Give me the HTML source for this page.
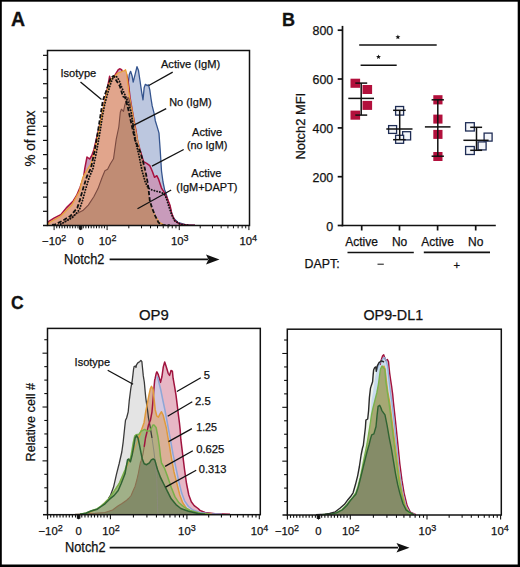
<!DOCTYPE html>
<html><head><meta charset="utf-8">
<style>
html,body{margin:0;padding:0;background:#fff;}
svg{display:block;}
text{font-family:"Liberation Sans",sans-serif;fill:#111;stroke:#111;stroke-width:0.25px;}
.b{stroke-width:0.3px;}
.b{font-weight:bold;}
</style></head>
<body>
<svg width="520" height="567" viewBox="0 0 520 567">
<rect x="0" y="0" width="520" height="567" fill="#000"/>
<rect x="1.8" y="1.7" width="515.9" height="562.8" fill="#fff"/>

<!-- ============ PANEL A ============ -->
<text x="11" y="26.2" class="b" font-size="19.5">A</text>
<g id="Acurves"><polygon points="100.0,225.0 110.0,180.0 118.0,130.0 124.0,100.0 128.4,82.1 129.3,74.4 130.6,71.3 132.2,76.3 133.2,82.1 135.1,74.4 137.0,66.7 138.5,70.6 139.9,80.0 141.7,92.3 143.0,99.8 144.2,87.4 145.4,84.3 147.3,85.6 148.5,84.9 149.8,89.9 151.0,98.5 152.2,105.9 154.1,113.3 155.3,120.7 157.2,126.9 159.0,133.1 159.6,141.7 160.2,150.0 161.5,171.0 163.0,182.0 164.6,189.7 166.1,193.6 168.5,202.1 170.8,209.9 173.1,217.6 177.8,222.3 187.1,225.0 195.0,225.2" fill="#bcc7df" stroke="none" stroke-width="1.2" stroke-linejoin="round"/>
<polyline points="128.4,82.1 129.3,74.4 130.6,71.3 132.2,76.3 133.2,82.1 135.1,74.4 137.0,66.7 138.5,70.6 139.9,80.0 141.7,92.3 143.0,99.8 144.2,87.4 145.4,84.3 147.3,85.6 148.5,84.9 149.8,89.9 151.0,98.5 152.2,105.9 154.1,113.3 155.3,120.7 157.2,126.9 159.0,133.1 159.6,141.7 160.2,150.0 161.5,171.0 163.0,182.0 164.6,189.7 166.1,193.6 168.5,202.1 170.8,209.9 173.1,217.6 177.8,222.3 187.1,225.0 195.0,225.2" fill="none" stroke="#34548e" stroke-width="1.3" stroke-linecap="butt" stroke-linejoin="round"/>
<polygon points="47.6,224.6 48.4,221.6 53.9,218.2 60.8,214.7 66.3,207.9 73.2,201.0 76.6,195.5 80.1,187.2 83.5,177.5 84.9,167.9 87.0,157.0 89.7,159.0 91.8,155.5 93.8,150.0 97.6,134.0 101.2,118.2 103.4,108.0 104.7,100.6 106.7,91.7 109.1,79.2 109.6,76.3 111.1,82.1 113.0,80.0 115.4,74.4 118.3,69.6 119.7,68.8 121.6,69.6 122.6,72.5 124.5,74.0 126.5,74.0 128.0,80.0 129.0,88.0 130.0,97.0 131.5,106.0 133.9,119.8 136.2,131.9 137.4,140.0 139.8,149.3 143.6,161.7 146.7,163.3 149.8,165.6 152.2,171.0 154.5,177.3 156.8,175.7 158.4,178.8 161.5,188.1 164.6,192.8 166.9,197.5 170.0,205.2 171.6,213.0 174.7,220.7 179.3,223.9 187.1,225.0 195.0,225.2" fill="#c89bbb" stroke="none" stroke-width="1.2" stroke-linejoin="round"/>
<polyline points="47.6,224.6 48.4,221.6 53.9,218.2 60.8,214.7 66.3,207.9 73.2,201.0 76.6,195.5 80.1,187.2 83.5,177.5 84.9,167.9 87.0,157.0 89.7,159.0 91.8,155.5 93.8,150.0 97.6,134.0 101.2,118.2 103.4,108.0 104.7,100.6 106.7,91.7 109.1,79.2 109.6,76.3 111.1,82.1 113.0,80.0 115.4,74.4 118.3,69.6 119.7,68.8 121.6,69.6 122.6,72.5 124.5,74.0 126.5,74.0 128.0,80.0 129.0,88.0 130.0,97.0 131.5,106.0 133.9,119.8 136.2,131.9 137.4,140.0 139.8,149.3 143.6,161.7 146.7,163.3 149.8,165.6 152.2,171.0 154.5,177.3 156.8,175.7 158.4,178.8 161.5,188.1 164.6,192.8 166.9,197.5 170.0,205.2 171.6,213.0 174.7,220.7 179.3,223.9 187.1,225.0 195.0,225.2" fill="none" stroke="#a8123f" stroke-width="1.5" stroke-linecap="butt" stroke-linejoin="round"/>
<polygon points="47.6,224.8 49.8,222.3 60.8,216.0 71.8,205.0 79.4,191.3 82.8,177.5 87.0,170.0 91.0,163.8 93.8,154.0 97.0,140.0 100.0,125.0 103.0,110.0 106.0,96.0 109.0,84.0 112.0,78.0 115.0,76.0 118.0,73.0 121.0,72.0 124.5,70.6 125.5,69.6 126.4,72.5 127.9,84.0 128.8,91.7 130.0,100.0 132.0,110.0 134.0,122.0 136.0,133.0 138.5,145.0 141.0,157.0 143.5,170.0 145.2,185.0 146.5,193.0 149.8,205.2 154.5,214.5 159.2,222.3 164.0,225.0" fill="#e1a58c" stroke="none" stroke-width="1.2" stroke-linejoin="round"/>
<polyline points="47.6,224.8 49.8,222.3 60.8,216.0 71.8,205.0 79.4,191.3 82.8,177.5 87.0,170.0 91.0,163.8 93.8,154.0 97.0,140.0 100.0,125.0 103.0,110.0 106.0,96.0 109.0,84.0 112.0,78.0 115.0,76.0 118.0,73.0 121.0,72.0 124.5,70.6 125.5,69.6 126.4,72.5 127.9,84.0 128.8,91.7 130.0,100.0 132.0,110.0 134.0,122.0 136.0,133.0 138.5,145.0 141.0,157.0 143.5,170.0 145.2,185.0 146.5,193.0 149.8,205.2 154.5,214.5 159.2,222.3 164.0,225.0" fill="none" stroke="#eaa23a" stroke-width="1.3" stroke-linecap="butt" stroke-linejoin="round"/>
<polygon points="60.0,225.0 64.9,221.6 74.5,214.7 82.8,210.6 88.3,205.1 93.8,196.8 98.0,188.6 102.1,177.5 104.9,170.7 107.6,169.3 110.4,163.8 113.5,158.8 116.2,139.4 118.8,127.0 120.3,112.3 121.4,109.2 123.5,111.3 124.6,106.0 126.2,100.7 127.8,97.5 128.8,98.5 131.0,107.0 133.0,117.0 135.1,128.0 137.0,138.0 140.5,152.4 144.4,166.4 146.7,177.3 148.3,186.6 149.1,194.3 149.8,200.6 152.2,208.3 155.3,216.1 158.4,222.3 161.5,225.0" fill="#c08c74" stroke="none" stroke-width="1.2" stroke-linejoin="round"/>
<polyline points="60.0,225.0 64.9,221.6 74.5,214.7 82.8,210.6 88.3,205.1 93.8,196.8 98.0,188.6 102.1,177.5 104.9,170.7 107.6,169.3 110.4,163.8 113.5,158.8 116.2,139.4 118.8,127.0 120.3,112.3 121.4,109.2 123.5,111.3 124.6,106.0 126.2,100.7 127.8,97.5 128.8,98.5 131.0,107.0" fill="none" stroke="#7a4a40" stroke-width="1.1" stroke-linecap="butt" stroke-linejoin="round"/>
<polyline points="52.0,225.0 55.3,224.4 63.5,220.2 70.4,216.0 77.3,207.9 80.0,199.6 83.5,187.2 87.0,176.2 91.0,167.9 94.5,151.4 98.5,128.0 101.0,112.0 102.9,100.6 106.5,90.0 110.9,77.6 113.5,75.9 116.0,80.0 119.8,85.9 123.0,96.5 125.1,97.5 128.0,108.0 131.0,122.0 133.0,131.0 135.1,140.0 140.5,152.4 144.4,166.4 146.7,177.3 148.3,186.6 149.1,194.3 149.8,200.6 152.2,208.3 155.3,216.1 158.4,222.3 161.5,225.1 170.0,225.3" fill="none" stroke="#111" stroke-width="1.8" stroke-dasharray="4.2 2" stroke-linecap="butt" stroke-linejoin="round"/>
<polyline points="58.0,225.2 62.0,223.4 66.5,221.0 73.0,217.0 79.5,209.5 82.5,200.5 85.8,188.5 89.2,177.5 93.0,168.5 96.5,152.0 100.3,130.0 102.5,116.0 104.8,104.0 107.5,94.0 110.5,84.0 112.4,79.0 114.0,76.5 116.0,76.0 119.0,80.0 122.0,88.0 125.0,95.0 128.0,102.0 131.2,112.0 133.7,129.4 135.6,141.7 139.0,155.5 142.1,171.0 145.2,182.0 148.3,188.1 151.4,189.7 156.1,191.2 159.9,192.0 163.8,193.6 166.1,197.5 168.5,205.2 171.6,214.5 174.7,220.7 180.9,224.6 190.0,225.3" fill="none" stroke="#111" stroke-width="1.9" stroke-dasharray="0.1 2.7" stroke-linecap="round" stroke-linejoin="round"/></g><!--end Acurves-->
<!-- frame -->
<g stroke="#111" stroke-width="1.5" fill="none">
  <rect x="47.5" y="50.5" width="202" height="175"/>
  <line x1="43" y1="225.5" x2="47.5" y2="225.5"/>
</g>
<g stroke="#111" stroke-width="1.2"><g id="Ayticks"><line x1="43.00" y1="211.32" x2="47.50" y2="211.32"/><line x1="43.00" y1="197.14" x2="47.50" y2="197.14"/><line x1="43.00" y1="182.96" x2="47.50" y2="182.96"/><line x1="43.00" y1="168.78" x2="47.50" y2="168.78"/><line x1="43.00" y1="154.60" x2="47.50" y2="154.60"/><line x1="43.00" y1="140.42" x2="47.50" y2="140.42"/><line x1="43.00" y1="126.24" x2="47.50" y2="126.24"/><line x1="43.00" y1="112.06" x2="47.50" y2="112.06"/><line x1="43.00" y1="97.88" x2="47.50" y2="97.88"/><line x1="43.00" y1="83.70" x2="47.50" y2="83.70"/><line x1="43.00" y1="69.52" x2="47.50" y2="69.52"/><line x1="43.00" y1="55.34" x2="47.50" y2="55.34"/></g><!--end Ayticks--></g>
<g stroke="#111" stroke-width="1"><g id="Axticks"><line x1="54.10" y1="225.50" x2="54.10" y2="230.10"/><line x1="80.60" y1="225.50" x2="80.60" y2="230.10"/><line x1="107.10" y1="225.50" x2="107.10" y2="230.10"/><line x1="179.25" y1="225.50" x2="179.25" y2="230.10"/><line x1="248.90" y1="225.50" x2="248.90" y2="230.10"/><line x1="56.75" y1="225.50" x2="56.75" y2="228.30"/><line x1="83.25" y1="225.50" x2="83.25" y2="228.30"/><line x1="59.40" y1="225.50" x2="59.40" y2="228.30"/><line x1="85.90" y1="225.50" x2="85.90" y2="228.30"/><line x1="62.05" y1="225.50" x2="62.05" y2="228.30"/><line x1="88.55" y1="225.50" x2="88.55" y2="228.30"/><line x1="64.70" y1="225.50" x2="64.70" y2="228.30"/><line x1="91.20" y1="225.50" x2="91.20" y2="228.30"/><line x1="67.35" y1="225.50" x2="67.35" y2="228.30"/><line x1="93.85" y1="225.50" x2="93.85" y2="228.30"/><line x1="70.00" y1="225.50" x2="70.00" y2="228.30"/><line x1="96.50" y1="225.50" x2="96.50" y2="228.30"/><line x1="72.65" y1="225.50" x2="72.65" y2="228.30"/><line x1="99.15" y1="225.50" x2="99.15" y2="228.30"/><line x1="75.30" y1="225.50" x2="75.30" y2="228.30"/><line x1="101.80" y1="225.50" x2="101.80" y2="228.30"/><line x1="77.95" y1="225.50" x2="77.95" y2="228.30"/><line x1="104.45" y1="225.50" x2="104.45" y2="228.30"/><line x1="79.40" y1="225.50" x2="79.40" y2="229.50"/><line x1="80.00" y1="225.50" x2="80.00" y2="229.50"/><line x1="81.20" y1="225.50" x2="81.20" y2="229.50"/><line x1="81.80" y1="225.50" x2="81.80" y2="229.50"/><line x1="128.82" y1="225.50" x2="128.82" y2="228.30"/><line x1="200.22" y1="225.50" x2="200.22" y2="228.30"/><line x1="141.52" y1="225.50" x2="141.52" y2="228.30"/><line x1="212.48" y1="225.50" x2="212.48" y2="228.30"/><line x1="150.54" y1="225.50" x2="150.54" y2="228.30"/><line x1="221.18" y1="225.50" x2="221.18" y2="228.30"/><line x1="157.53" y1="225.50" x2="157.53" y2="228.30"/><line x1="227.93" y1="225.50" x2="227.93" y2="228.30"/><line x1="163.24" y1="225.50" x2="163.24" y2="228.30"/><line x1="233.45" y1="225.50" x2="233.45" y2="228.30"/><line x1="168.07" y1="225.50" x2="168.07" y2="228.30"/><line x1="238.11" y1="225.50" x2="238.11" y2="228.30"/><line x1="172.26" y1="225.50" x2="172.26" y2="228.30"/><line x1="242.15" y1="225.50" x2="242.15" y2="228.30"/><line x1="175.95" y1="225.50" x2="175.95" y2="228.30"/><line x1="245.71" y1="225.50" x2="245.71" y2="228.30"/></g><!--end Axticks--></g>
<g font-size="11.3" text-anchor="middle"><text x="54.2" y="245.3">−10<tspan font-size="9" dy="-4.6">2</tspan></text><text x="80.6" y="245.3">0</text><text x="107.6" y="245.3">10<tspan font-size="9" dy="-4.6">2</tspan></text><text x="179.75" y="245.3">10<tspan font-size="9" dy="-4.6">3</tspan></text><text x="248.3" y="245.3">10<tspan font-size="9" dy="-4.6">4</tspan></text></g>
<text x="63.9" y="263.8" font-size="14.2" textLength="40.6" lengthAdjust="spacingAndGlyphs">Notch2</text>
<line x1="109.6" y1="259.4" x2="208" y2="259.4" stroke="#111" stroke-width="1.8"/>
<path d="M206 254.5 L219.5 259.4 L206 264.5 L208.5 259.4 Z" fill="#111"/>
<text transform="translate(34.8,166.6) rotate(-90)" font-size="14.2" textLength="56.2" lengthAdjust="spacingAndGlyphs">% of max</text>

<!-- A labels -->
<g font-size="11">
  <text x="60.5" y="76.5" textLength="35.7" lengthAdjust="spacingAndGlyphs">Isotype</text>
  <text x="160.9" y="68.2" textLength="59.4" lengthAdjust="spacingAndGlyphs">Active (IgM)</text>
  <text x="169.2" y="106.2" textLength="42.4" lengthAdjust="spacingAndGlyphs">No (IgM)</text>
  <text x="192.1" y="135.6" textLength="30" lengthAdjust="spacingAndGlyphs">Active</text>
  <text x="186.9" y="148.8" textLength="40.4" lengthAdjust="spacingAndGlyphs">(no IgM)</text>
  <text x="191.3" y="177" textLength="30" lengthAdjust="spacingAndGlyphs">Active</text>
  <text x="176.3" y="190.5" textLength="61.2" lengthAdjust="spacingAndGlyphs">(IgM+DAPT)</text>
</g>
<g stroke="#111" stroke-width="1.3">
  <line x1="80.5" y1="82" x2="101.5" y2="99.6"/>
  <line x1="172.7" y1="72.1" x2="148.8" y2="85.5"/>
  <line x1="166.2" y1="108.7" x2="132" y2="126.2"/>
  <line x1="183.7" y1="149.5" x2="152" y2="166.2"/>
  <line x1="171.2" y1="190" x2="137.5" y2="208.7"/>
</g>

<!-- ============ PANEL B ============ -->
<text x="282" y="25.9" class="b" font-size="18">B</text>
<g stroke="#111" stroke-width="1.7" fill="none">
  <line x1="342.5" y1="25.9" x2="342.5" y2="226.3"/>
  <line x1="341.7" y1="225.5" x2="495.8" y2="225.5"/>
  <line x1="337.7" y1="30.2" x2="342.5" y2="30.2"/>
  <line x1="337.7" y1="79" x2="342.5" y2="79"/>
  <line x1="337.7" y1="127.9" x2="342.5" y2="127.9"/>
  <line x1="337.7" y1="176.7" x2="342.5" y2="176.7"/>
  <line x1="337.7" y1="225.5" x2="342.5" y2="225.5"/>
  <line x1="361.7" y1="225.5" x2="361.7" y2="230.5"/>
  <line x1="399.5" y1="225.5" x2="399.5" y2="230.5"/>
  <line x1="437.6" y1="225.5" x2="437.6" y2="230.5"/>
  <line x1="475.7" y1="225.5" x2="475.7" y2="230.5"/>
</g>
<g font-size="12.4" text-anchor="end">
  <text x="333.2" y="35.2">800</text>
  <text x="333.2" y="84">600</text>
  <text x="333.2" y="132.9">400</text>
  <text x="333.2" y="181.7">200</text>
  <text x="333.2" y="230.5">0</text>
</g>
<text transform="translate(304.6,159.6) rotate(-90)" font-size="13.6" textLength="66.8" lengthAdjust="spacingAndGlyphs">Notch2 MFI</text>
<g font-size="12" text-anchor="middle">
  <text x="361.5" y="245.5">Active</text>
  <text x="399.6" y="245.5">No</text>
  <text x="437.7" y="245.5">Active</text>
  <text x="475.7" y="245.5">No</text>
</g>
<g stroke="#111" stroke-width="1.6">
  <line x1="347.5" y1="252.5" x2="413.8" y2="252.5"/>
  <line x1="423.8" y1="252.4" x2="490" y2="252.4"/>
</g>
<text x="304.6" y="268.2" font-size="12.3" textLength="35" lengthAdjust="spacingAndGlyphs">DAPT:</text>
<line x1="377.5" y1="264.2" x2="383.8" y2="264.2" stroke="#111" stroke-width="1"/>
<text x="456.7" y="269.4" font-size="11.2" text-anchor="middle">+</text>
<!-- significance -->
<g stroke="#111" stroke-width="1.5">
  <line x1="359.2" y1="45" x2="436.7" y2="45"/>
  <line x1="360.6" y1="65.2" x2="396.7" y2="65.2"/>
</g>
<polygon points="397.90,34.50 398.55,36.21 400.37,36.30 398.95,37.44 399.43,39.20 397.90,38.20 396.37,39.20 396.85,37.44 395.43,36.30 397.25,36.21" fill="#111"/><polygon points="378.50,54.40 379.15,56.11 380.97,56.20 379.55,57.34 380.03,59.10 378.50,58.10 376.97,59.10 377.45,57.34 376.03,56.20 377.85,56.11" fill="#111"/>
<!-- data -->
<g fill="#b2103c">
  <rect x="350.5" y="78.7" width="9.6" height="9.1"/>
  <rect x="362.5" y="85" width="9.6" height="9"/>
  <rect x="362.5" y="100.9" width="9.6" height="9"/>
  <rect x="350.5" y="110.6" width="9.6" height="9.1"/>
  <rect x="433.3" y="95.2" width="9.2" height="9.2"/>
  <rect x="433.3" y="114.6" width="9.2" height="9"/>
  <rect x="433.3" y="129.9" width="9.2" height="9"/>
  <rect x="433.3" y="152" width="9.2" height="9"/>
</g>
<g fill="#f4f6fa" stroke="#1f2d55" stroke-width="1.3">
  <rect x="395.6" y="106.5" width="8" height="8.6"/>
  <rect x="388.6" y="125.6" width="8" height="7.8"/>
  <rect x="402.6" y="131.7" width="8" height="8.2"/>
  <rect x="395.6" y="135.3" width="8" height="8"/>
  <rect x="465.6" y="122.7" width="8.7" height="8.3"/>
  <rect x="484.1" y="133.1" width="8" height="8"/>
  <rect x="478.1" y="141.9" width="8" height="8"/>
  <rect x="465.6" y="146.5" width="8.7" height="8"/>
</g>
<g stroke="#111" stroke-width="1.5">
  <line x1="361.2" y1="83.1" x2="361.2" y2="115.1"/>
  <line x1="355.3" y1="83.1" x2="367.2" y2="83.1"/>
  <line x1="355.3" y1="115.1" x2="367.2" y2="115.1"/>
  <line x1="348.3" y1="98.4" x2="374" y2="98.4"/>

  <line x1="399.7" y1="110.3" x2="399.7" y2="139.7"/>
  <line x1="393.1" y1="110.3" x2="405.7" y2="110.3"/>
  <line x1="393.1" y1="139.7" x2="405.7" y2="139.7"/>
  <line x1="386.3" y1="129" x2="412.5" y2="129"/>

  <line x1="437.8" y1="99.8" x2="437.8" y2="156.2"/>
  <line x1="431.6" y1="99.8" x2="443.9" y2="99.8"/>
  <line x1="431.6" y1="156.2" x2="443.9" y2="156.2"/>
  <line x1="424.9" y1="126.9" x2="450.5" y2="126.9"/>

  <line x1="476.5" y1="127.3" x2="476.5" y2="150.3"/>
  <line x1="470.2" y1="127.3" x2="482.1" y2="127.3"/>
  <line x1="470.2" y1="150.3" x2="482.1" y2="150.3"/>
  <line x1="463.4" y1="140.3" x2="488.6" y2="140.3"/>
</g>

<!-- ============ PANEL C ============ -->
<text x="11.1" y="308.9" class="b" font-size="17.5">C</text>
<text x="138.9" y="320.1" font-size="14.2" textLength="29.8" lengthAdjust="spacingAndGlyphs">OP9</text>
<text x="363.5" y="320.4" font-size="14.2" textLength="59.6" lengthAdjust="spacingAndGlyphs">OP9-DL1</text>
<text transform="translate(34.6,461.4) rotate(-90)" font-size="13.4" textLength="78.4" lengthAdjust="spacingAndGlyphs">Relative cell #</text>

<g id="CLcurves"><defs><clipPath id="clLG"><polygon points="80.0,514.3 86.0,513.0 91.5,510.8 97.3,508.6 100.6,506.3 104.8,502.8 109.4,498.0 113.8,491.7 119.2,483.5 125.0,470.0 128.5,460.0 130.4,459.0 131.8,451.3 133.2,442.8 134.7,436.1 136.1,434.7 139.0,434.2 140.9,431.3 142.8,430.4 144.7,429.4 147.0,431.0 149.4,431.0 151.3,428.5 152.9,425.0 154.2,425.1 156.1,427.5 158.0,437.0 159.4,446.6 160.4,456.1 161.5,463.0 164.4,468.0 167.3,475.8 171.2,487.3 175.0,496.9 178.8,502.7 184.6,507.5 190.0,510.5 200.0,513.2 210.0,514.3"/></clipPath><clipPath id="clDG"><polygon points="80.0,514.3 86.0,513.2 91.2,511.0 97.3,509.2 100.4,507.0 105.0,503.8 109.6,499.2 114.2,495.4 118.2,490.5 121.2,483.5 125.0,473.8 127.5,459.9 128.5,459.0 130.4,461.8 132.3,454.2 133.7,446.6 135.1,438.0 136.6,435.6 138.0,438.0 139.4,444.7 140.9,452.3 142.3,459.0 144.2,463.7 146.6,464.7 149.4,462.8 151.3,459.9 153.2,459.0 154.7,459.9 155.6,462.8 156.6,466.6 157.7,470.0 160.6,477.7 163.5,483.5 167.3,491.2 171.2,498.8 176.0,504.6 180.8,508.5 188.5,511.3 198.0,513.5 205.0,514.3"/></clipPath></defs>
<polygon points="70.0,514.3 85.0,513.5 95.0,512.0 100.0,510.4 102.9,508.5 106.7,502.7 108.5,498.5 110.6,495.0 113.5,487.3 116.5,474.2 119.2,463.5 121.8,452.0 123.2,441.8 124.7,427.5 125.5,420.3 126.6,418.0 128.2,411.8 129.2,401.2 130.8,388.5 131.5,384.5 132.2,380.8 132.8,375.9 133.5,369.7 134.1,366.6 135.3,366.0 136.0,367.5 136.5,364.8 137.8,362.9 139.6,361.7 140.9,360.4 141.9,361.7 142.3,366.0 143.3,375.9 144.3,382.0 145.2,391.9 145.8,398.1 146.7,404.3 147.5,410.0 148.5,418.0 150.0,426.0 152.0,438.0 154.0,452.0 155.5,465.0 156.7,477.7 157.3,495.0 157.7,512.3 158.5,514.3" fill="#e4e4e4" stroke="none" stroke-width="1.2" stroke-linejoin="round"/>
<polygon points="75.0,514.3 95.0,513.4 105.0,512.5 112.6,510.0 117.9,506.0 122.0,503.5 125.9,500.8 128.5,498.5 131.1,495.5 133.0,491.0 135.1,486.2 136.8,480.0 138.4,473.0 139.5,467.0 140.4,462.5 141.3,460.4 143.0,454.0 144.2,446.9 145.5,438.0 147.1,431.5 148.5,425.0 150.4,420.3 152.0,411.8 153.1,399.1 154.1,386.4 154.7,380.0 155.2,378.2 156.2,373.3 156.9,371.9 158.3,374.7 160.5,382.4 161.9,376.8 163.3,366.9 164.7,362.0 166.1,366.2 168.2,373.3 169.6,375.4 171.0,370.5 172.4,371.2 173.1,378.2 174.6,386.7 176.0,395.1 177.4,406.4 178.4,414.9 179.5,423.3 180.2,430.0 180.8,439.2 182.7,454.6 184.6,470.0 186.5,483.5 188.8,495.0 191.3,501.7 194.2,505.6 198.1,508.5 200.0,510.4 205.0,512.5 215.0,513.8 230.0,514.3" fill="#e7b7c5" stroke="none" stroke-width="1.2" stroke-linejoin="round"/>
<polygon points="78.0,514.3 98.0,513.0 108.0,511.0 114.0,508.0 121.0,502.0 130.0,491.0 135.0,476.0 140.0,462.0 144.0,447.0 147.0,432.0 150.0,424.0 152.5,412.0 153.6,400.0 154.6,388.0 155.5,378.0 156.2,375.4 157.2,376.5 158.3,380.0 160.8,390.0 162.8,400.0 164.9,410.0 166.8,420.0 168.6,430.0 170.5,440.0 173.1,454.6 176.0,468.1 178.8,481.5 181.7,493.1 184.6,500.8 188.5,506.5 193.0,510.0 200.0,512.5 210.0,513.8 222.0,514.3" fill="#d4c8e0" stroke="none" stroke-width="1.2" stroke-linejoin="round"/>
<polygon points="80.0,514.3 92.0,512.0 99.0,507.9 104.4,502.5 108.5,498.5 113.8,491.7 119.0,484.0 124.0,474.0 129.0,462.0 134.0,450.0 138.0,440.0 141.5,430.0 144.1,422.4 145.7,411.8 147.2,404.4 148.8,395.9 150.4,388.5 151.5,386.4 153.1,389.5 154.1,399.1 155.2,409.7 156.8,416.0 158.4,417.1 160.0,413.9 161.5,411.8 163.1,415.0 164.7,421.3 166.3,427.7 167.9,437.2 169.5,446.0 171.2,456.5 174.0,471.9 176.9,483.5 179.8,495.0 182.7,502.7 186.5,508.5 192.0,511.5 200.0,513.5 212.0,514.3" fill="#dab097" stroke="none" stroke-width="1.2" stroke-linejoin="round"/>
<polygon points="80.0,514.3 86.0,513.0 91.5,510.8 97.3,508.6 100.6,506.3 104.8,502.8 109.4,498.0 113.8,491.7 119.2,483.5 125.0,470.0 128.5,460.0 130.4,459.0 131.8,451.3 133.2,442.8 134.7,436.1 136.1,434.7 139.0,434.2 140.9,431.3 142.8,430.4 144.7,429.4 147.0,431.0 149.4,431.0 151.3,428.5 152.9,425.0 154.2,425.1 156.1,427.5 158.0,437.0 159.4,446.6 160.4,456.1 161.5,463.0 164.4,468.0 167.3,475.8 171.2,487.3 175.0,496.9 178.8,502.7 184.6,507.5 190.0,510.5 200.0,513.2 210.0,514.3" fill="#9fb67e" stroke="none" stroke-width="1.2" stroke-linejoin="round"/>
<g clip-path="url(#clLG)"><polygon points="75.0,514.3 95.0,513.4 105.0,512.5 112.6,510.0 117.9,506.0 122.0,503.5 125.9,500.8 128.5,498.5 131.1,495.5 133.0,491.0 135.1,486.2 136.8,480.0 138.4,473.0 139.5,467.0 140.4,462.5 141.3,460.4 143.0,454.0 144.2,446.9 145.5,438.0 147.1,431.5 148.5,425.0 150.4,420.3 152.0,411.8 153.1,399.1 154.1,386.4 154.7,380.0 155.2,378.2 156.2,373.3 156.9,371.9 158.3,374.7 160.5,382.4 161.9,376.8 163.3,366.9 164.7,362.0 166.1,366.2 168.2,373.3 169.6,375.4 171.0,370.5 172.4,371.2 173.1,378.2 174.6,386.7 176.0,395.1 177.4,406.4 178.4,414.9 179.5,423.3 180.2,430.0 180.8,439.2 182.7,454.6 184.6,470.0 186.5,483.5 188.8,495.0 191.3,501.7 194.2,505.6 198.1,508.5 200.0,510.4 205.0,512.5 215.0,513.8 230.0,514.3" fill="#b5ad84" stroke="none" stroke-width="1.2" stroke-linejoin="round"/></g>
<polygon points="80.0,514.3 86.0,513.2 91.2,511.0 97.3,509.2 100.4,507.0 105.0,503.8 109.6,499.2 114.2,495.4 118.2,490.5 121.2,483.5 125.0,473.8 127.5,459.9 128.5,459.0 130.4,461.8 132.3,454.2 133.7,446.6 135.1,438.0 136.6,435.6 138.0,438.0 139.4,444.7 140.9,452.3 142.3,459.0 144.2,463.7 146.6,464.7 149.4,462.8 151.3,459.9 153.2,459.0 154.7,459.9 155.6,462.8 156.6,466.6 157.7,470.0 160.6,477.7 163.5,483.5 167.3,491.2 171.2,498.8 176.0,504.6 180.8,508.5 188.5,511.3 198.0,513.5 205.0,514.3" fill="#a0b088" stroke="none" stroke-width="1.2" stroke-linejoin="round"/>
<g clip-path="url(#clDG)"><polygon points="75.0,514.3 95.0,513.4 105.0,512.5 112.6,510.0 117.9,506.0 122.0,503.5 125.9,500.8 128.5,498.5 131.1,495.5 133.0,491.0 135.1,486.2 136.8,480.0 138.4,473.0 139.5,467.0 140.4,462.5 141.3,460.4 143.0,454.0 144.2,446.9 145.5,438.0 147.1,431.5 148.5,425.0 150.4,420.3 152.0,411.8 153.1,399.1 154.1,386.4 154.7,380.0 155.2,378.2 156.2,373.3 156.9,371.9 158.3,374.7 160.5,382.4 161.9,376.8 163.3,366.9 164.7,362.0 166.1,366.2 168.2,373.3 169.6,375.4 171.0,370.5 172.4,371.2 173.1,378.2 174.6,386.7 176.0,395.1 177.4,406.4 178.4,414.9 179.5,423.3 180.2,430.0 180.8,439.2 182.7,454.6 184.6,470.0 186.5,483.5 188.8,495.0 191.3,501.7 194.2,505.6 198.1,508.5 200.0,510.4 205.0,512.5 215.0,513.8 230.0,514.3" fill="#838c69" stroke="none" stroke-width="1.2" stroke-linejoin="round"/></g>
<polyline points="152.0,438.0 154.0,452.0 155.5,465.0 156.7,477.7 157.3,495.0 157.7,512.3 158.5,514.3" fill="none" stroke="#8a8a7a" stroke-width="1.0" stroke-linecap="butt" stroke-linejoin="round"/>
<polyline points="75.0,514.3 95.0,513.4 105.0,512.5 112.6,510.0 117.9,506.0 122.0,503.5 125.9,500.8 128.5,498.5 131.1,495.5 133.0,491.0 135.1,486.2 136.8,480.0 138.4,473.0 139.5,467.0 140.4,462.5 141.3,460.4 143.0,454.0 144.2,446.9" fill="none" stroke="#8a7050" stroke-width="1.1" stroke-linecap="butt" stroke-linejoin="round"/>
<polyline points="80.0,514.3 92.0,512.0 99.0,507.9 104.4,502.5 108.5,498.5 113.8,491.7 119.0,484.0 124.0,474.0 129.0,462.0 134.0,450.0 138.0,440.0 141.5,430.0" fill="none" stroke="#d0a050" stroke-width="1.0" stroke-linecap="butt" stroke-linejoin="round"/>
<polyline points="108.5,498.5 110.6,495.0 113.5,487.3 116.5,474.2 119.2,463.5 121.8,452.0 123.2,441.8 124.7,427.5 125.5,420.3 126.6,418.0 128.2,411.8 129.2,401.2 130.8,388.5 131.5,384.5 132.2,380.8 132.8,375.9 133.5,369.7 134.1,366.6 135.3,366.0 136.0,367.5 136.5,364.8 137.8,362.9 139.6,361.7 140.9,360.4 141.9,361.7 142.3,366.0 143.3,375.9 144.3,382.0 145.2,391.9 145.8,398.1 146.7,404.3 147.5,410.0 148.5,418.0 150.0,426.0 152.0,438.0" fill="none" stroke="#3a3a3a" stroke-width="1.3" stroke-linecap="butt" stroke-linejoin="round"/>
<polyline points="144.2,446.9 145.5,438.0 147.1,431.5 148.5,425.0 150.4,420.3 152.0,411.8 153.1,399.1 154.1,386.4 154.7,380.0 155.2,378.2 156.2,373.3 156.9,371.9 158.3,374.7 160.5,382.4 161.9,376.8 163.3,366.9 164.7,362.0 166.1,366.2 168.2,373.3 169.6,375.4 171.0,370.5 172.4,371.2 173.1,378.2 174.6,386.7 176.0,395.1 177.4,406.4 178.4,414.9 179.5,423.3 180.2,430.0 180.8,439.2 182.7,454.6 184.6,470.0 186.5,483.5 188.8,495.0 191.3,501.7 194.2,505.6 198.1,508.5 200.0,510.4 205.0,512.5 215.0,513.8 230.0,514.3" fill="none" stroke="#a0143f" stroke-width="1.5" stroke-linecap="butt" stroke-linejoin="round"/>
<polyline points="157.2,376.5 158.3,380.0 160.8,390.0 162.8,400.0 164.9,410.0 166.8,420.0 168.6,430.0 170.5,440.0 173.1,454.6 176.0,468.1 178.8,481.5 181.7,493.1 184.6,500.8 188.5,506.5 193.0,510.0 200.0,512.5 210.0,513.8 222.0,514.3" fill="none" stroke="#8ea6d6" stroke-width="1.5" stroke-linecap="butt" stroke-linejoin="round"/>
<polyline points="138.0,440.0 141.5,430.0 144.1,422.4 145.7,411.8 147.2,404.4 148.8,395.9 150.4,388.5 151.5,386.4 153.1,389.5 154.1,399.1 155.2,409.7 156.8,416.0 158.4,417.1 160.0,413.9 161.5,411.8 163.1,415.0 164.7,421.3 166.3,427.7 167.9,437.2 169.5,446.0 171.2,456.5 174.0,471.9 176.9,483.5 179.8,495.0 182.7,502.7 186.5,508.5 192.0,511.5 200.0,513.5 212.0,514.3" fill="none" stroke="#df9a3c" stroke-width="1.5" stroke-linecap="butt" stroke-linejoin="round"/>
<polyline points="80.0,514.3 86.0,513.0 91.5,510.8 97.3,508.6 100.6,506.3 104.8,502.8 109.4,498.0 113.8,491.7 119.2,483.5 125.0,470.0 128.5,460.0 130.4,459.0 131.8,451.3 133.2,442.8 134.7,436.1 136.1,434.7 139.0,434.2 140.9,431.3 142.8,430.4 144.7,429.4 147.0,431.0 149.4,431.0 151.3,428.5 152.9,425.0 154.2,425.1 156.1,427.5 158.0,437.0 159.4,446.6 160.4,456.1 161.5,463.0 164.4,468.0 167.3,475.8 171.2,487.3 175.0,496.9 178.8,502.7 184.6,507.5 190.0,510.5 200.0,513.2 210.0,514.3" fill="none" stroke="#78b04a" stroke-width="1.5" stroke-linecap="butt" stroke-linejoin="round"/>
<polyline points="80.0,514.3 86.0,513.2 91.2,511.0 97.3,509.2 100.4,507.0 105.0,503.8 109.6,499.2 114.2,495.4 118.2,490.5 121.2,483.5 125.0,473.8 127.5,459.9 128.5,459.0 130.4,461.8 132.3,454.2 133.7,446.6 135.1,438.0 136.6,435.6 138.0,438.0 139.4,444.7 140.9,452.3 142.3,459.0 144.2,463.7 146.6,464.7 149.4,462.8 151.3,459.9 153.2,459.0 154.7,459.9 155.6,462.8 156.6,466.6 157.7,470.0 160.6,477.7 163.5,483.5 167.3,491.2 171.2,498.8 176.0,504.6 180.8,508.5 188.5,511.3 198.0,513.5 205.0,514.3" fill="none" stroke="#2f6332" stroke-width="1.5" stroke-linecap="butt" stroke-linejoin="round"/></g><!--end CLcurves-->
<g id="CRcurves"><polygon points="316.0,514.6 325.0,514.1 329.6,513.5 335.3,511.8 339.9,508.3 344.5,504.3 347.9,499.7 350.8,496.3 353.1,492.8 355.4,484.8 357.7,475.6 359.4,466.5 361.1,455.0 362.5,448.0 363.3,445.5 364.3,437.0 365.4,427.5 365.9,420.1 367.7,419.0 368.6,410.6 369.4,397.6 370.5,388.1 371.5,384.9 372.6,381.7 373.1,375.4 373.6,370.1 374.7,367.5 375.8,366.9 376.3,371.2 377.3,365.9 378.9,362.7 380.5,361.6 381.5,360.8 384.0,362.0 387.0,368.0 389.0,378.0 391.0,392.0 392.5,405.0 394.0,425.0 396.0,450.0 398.0,475.0 400.0,492.0 403.0,505.0 407.0,512.0 412.0,514.6" fill="#eef3ec" stroke="none" stroke-width="1.2" stroke-linejoin="round"/>
<polygon points="324.0,514.6 332.0,514.0 337.5,512.6 343.0,509.6 347.5,505.0 351.0,500.5 354.0,497.0 356.8,493.0 359.0,486.5 361.3,477.5 363.4,467.0 365.0,459.0 366.5,452.0 368.0,444.0 369.6,434.0 371.2,424.0 372.5,415.0 374.0,408.0 376.0,400.0 377.8,391.0 379.0,380.0 379.8,370.0 380.1,364.8 381.0,360.6 382.6,355.8 383.7,354.8 384.8,357.9 386.1,360.6 387.4,359.5 388.5,361.6 389.0,366.9 389.7,373.3 390.6,379.6 391.6,386.0 392.7,394.4 393.5,402.9 394.3,410.0 395.5,421.0 397.7,442.3 399.8,463.5 402.0,480.4 404.1,493.1 407.2,505.8 410.4,512.2 416.0,514.6" fill="#e4b4c3" stroke="none" stroke-width="1.2" stroke-linejoin="round"/>
<polygon points="322.0,514.6 331.0,514.0 336.5,512.8 342.0,509.8 346.5,505.2 350.0,500.8 353.0,497.3 355.8,493.3 358.0,487.0 360.3,478.0 362.4,468.0 364.0,460.0 365.5,453.0 367.0,445.0 368.3,437.0 369.4,427.5 370.2,420.0 371.0,410.0 371.5,400.0 373.0,392.0 374.0,385.0 375.0,378.0 376.0,372.0 377.5,368.0 379.0,364.5 381.0,361.5 383.0,358.5 384.5,357.5 386.0,360.0 387.5,366.0 388.5,375.0 389.5,385.0 390.8,395.0 392.0,403.0 393.0,412.0 394.5,425.0 396.5,445.0 398.5,465.0 400.8,481.0 403.0,494.0 406.0,506.0 409.5,512.3 415.0,514.6" fill="#c9dbee" stroke="none" stroke-width="1.2" stroke-linejoin="round"/>
<polygon points="322.0,514.6 331.0,514.0 336.5,512.6 342.0,509.6 346.5,505.0 350.0,500.5 353.0,497.0 355.8,493.0 358.0,486.5 360.3,477.5 362.4,467.0 364.0,459.0 365.6,451.0 367.5,443.0 369.5,434.0 371.2,424.0 372.8,415.0 374.5,407.0 376.5,398.0 378.5,390.0 380.0,382.0 381.5,374.0 382.8,368.0 384.0,366.0 385.0,369.0 385.8,375.0 386.5,381.7 387.9,392.3 389.5,400.8 391.0,412.0 393.0,428.0 395.5,448.0 397.8,466.0 400.0,482.0 402.5,495.0 405.5,506.5 409.0,512.5 414.0,514.6" fill="#cfae76" stroke="none" stroke-width="1.2" stroke-linejoin="round"/>
<polygon points="322.0,514.6 331.0,514.0 336.5,512.6 342.0,509.6 346.5,505.0 350.0,500.5 353.0,497.0 355.8,493.0 358.0,486.5 360.3,477.5 362.4,467.0 364.0,459.0 365.4,452.0 367.0,444.0 368.6,434.0 370.2,424.0 371.5,415.0 373.0,408.0 375.0,400.0 376.8,393.0 378.5,384.0 379.5,376.0 380.5,369.0 382.0,366.0 383.5,368.0 384.8,369.0 385.8,381.7 387.4,392.3 389.0,402.9 390.3,413.0 392.2,428.0 394.5,447.0 396.8,465.0 399.0,481.0 401.5,494.0 404.5,505.5 408.0,512.3 413.0,514.6" fill="#a6a874" stroke="none" stroke-width="1.2" stroke-linejoin="round"/>
<polygon points="322.0,514.6 330.7,514.1 336.5,512.9 342.2,510.0 346.8,505.5 350.2,500.9 353.1,497.4 356.0,494.0 358.3,487.1 360.6,477.9 363.5,466.0 365.5,458.0 367.0,452.0 369.0,445.0 370.7,438.1 371.7,434.9 373.9,433.9 376.0,426.5 377.0,415.9 378.1,406.3 379.7,405.3 380.8,407.5 381.9,410.6 385.0,414.8 387.1,425.4 389.3,438.1 391.4,448.7 393.5,461.4 395.6,474.1 397.7,484.7 399.8,493.1 403.0,503.7 406.2,510.1 409.4,512.2 414.0,514.6" fill="#858c68" stroke="none" stroke-width="1.2" stroke-linejoin="round"/>
<polyline points="380.1,364.8 381.0,360.6 382.6,355.8 383.7,354.8 384.8,357.9 386.1,360.6 387.4,359.5 388.5,361.6 389.0,366.9 389.7,373.3 390.6,379.6 391.6,386.0 392.7,394.4 393.5,402.9 394.3,410.0 395.5,421.0 397.7,442.3 399.8,463.5 402.0,480.4 404.1,493.1 407.2,505.8 410.4,512.2 416.0,514.6" fill="none" stroke="#a0143f" stroke-width="1.4" stroke-linecap="butt" stroke-linejoin="round"/>
<polyline points="376.0,372.0 377.5,368.0 379.0,364.5 381.0,361.5 383.0,358.5 384.5,357.5 386.0,360.0 387.5,366.0 388.5,375.0 389.5,385.0 390.8,395.0 392.0,403.0 393.0,412.0 394.5,425.0 396.5,445.0 398.5,465.0 400.8,481.0 403.0,494.0 406.0,506.0 409.5,512.3 415.0,514.6" fill="none" stroke="#8eb0d8" stroke-width="1.3" stroke-linecap="butt" stroke-linejoin="round"/>
<polyline points="382.8,368.0 384.0,366.0 385.0,369.0 385.8,375.0 386.5,381.7 387.9,392.3 389.5,400.8 391.0,412.0 393.0,428.0 395.5,448.0 397.8,466.0 400.0,482.0 402.5,495.0 405.5,506.5 409.0,512.5 414.0,514.6" fill="none" stroke="#d99a3c" stroke-width="1.3" stroke-linecap="butt" stroke-linejoin="round"/>
<polyline points="322.0,514.6 331.0,514.0 336.5,512.6 342.0,509.6 346.5,505.0 350.0,500.5 353.0,497.0 355.8,493.0 358.0,486.5 360.3,477.5 362.4,467.0 364.0,459.0 365.4,452.0 367.0,444.0 368.6,434.0 370.2,424.0 371.5,415.0 373.0,408.0 375.0,400.0 376.8,393.0 378.5,384.0 379.5,376.0 380.5,369.0 382.0,366.0 383.5,368.0 384.8,369.0 385.8,381.7 387.4,392.3 389.0,402.9 390.3,413.0 392.2,428.0 394.5,447.0 396.8,465.0 399.0,481.0 401.5,494.0 404.5,505.5 408.0,512.3 413.0,514.6" fill="none" stroke="#7ab24c" stroke-width="1.4" stroke-linecap="butt" stroke-linejoin="round"/>
<polyline points="316.0,514.6 325.0,514.1 329.6,513.5 335.3,511.8 339.9,508.3 344.5,504.3 347.9,499.7 350.8,496.3 353.1,492.8 355.4,484.8 357.7,475.6 359.4,466.5 361.1,455.0 362.5,448.0 363.3,445.5 364.3,437.0 365.4,427.5 365.9,420.1 367.7,419.0 368.6,410.6 369.4,397.6 370.5,388.1 371.5,384.9 372.6,381.7 373.1,375.4 373.6,370.1 374.7,367.5 375.8,366.9 376.3,371.2 377.3,365.9 378.9,362.7 380.5,361.6 381.5,360.8 384.0,362.0" fill="none" stroke="#2a2a2a" stroke-width="1.4" stroke-linecap="butt" stroke-linejoin="round"/>
<polyline points="322.0,514.6 330.7,514.1 336.5,512.9 342.2,510.0 346.8,505.5 350.2,500.9 353.1,497.4 356.0,494.0 358.3,487.1 360.6,477.9 363.5,466.0 365.5,458.0 367.0,452.0 369.0,445.0 370.7,438.1 371.7,434.9 373.9,433.9 376.0,426.5 377.0,415.9 378.1,406.3 379.7,405.3 380.8,407.5 381.9,410.6 385.0,414.8 387.1,425.4 389.3,438.1 391.4,448.7 393.5,461.4 395.6,474.1 397.7,484.7 399.8,493.1 403.0,503.7 406.2,510.1 409.4,512.2 414.0,514.6" fill="none" stroke="#2f6332" stroke-width="1.4" stroke-linecap="butt" stroke-linejoin="round"/></g><!--end CRcurves-->

<g stroke="#111" stroke-width="1.5" fill="none">
  <rect x="47.5" y="328.4" width="212.8" height="186.3"/>
  <line x1="43" y1="514.7" x2="47.5" y2="514.7"/>
  <rect x="287.3" y="329.2" width="214" height="185.8"/>
  <line x1="282.5" y1="515" x2="287.3" y2="515"/>
</g>
<g stroke="#111" stroke-width="1.1"><g id="Cticks"><line x1="44.30" y1="501.24" x2="47.50" y2="501.24"/><line x1="44.30" y1="487.78" x2="47.50" y2="487.78"/><line x1="44.30" y1="474.32" x2="47.50" y2="474.32"/><line x1="42.50" y1="460.86" x2="47.50" y2="460.86"/><line x1="44.30" y1="447.40" x2="47.50" y2="447.40"/><line x1="44.30" y1="433.94" x2="47.50" y2="433.94"/><line x1="44.30" y1="420.48" x2="47.50" y2="420.48"/><line x1="42.50" y1="407.02" x2="47.50" y2="407.02"/><line x1="44.30" y1="393.56" x2="47.50" y2="393.56"/><line x1="44.30" y1="380.10" x2="47.50" y2="380.10"/><line x1="44.30" y1="366.64" x2="47.50" y2="366.64"/><line x1="42.50" y1="353.18" x2="47.50" y2="353.18"/><line x1="44.30" y1="339.72" x2="47.50" y2="339.72"/><line x1="284.10" y1="501.54" x2="287.30" y2="501.54"/><line x1="284.10" y1="488.08" x2="287.30" y2="488.08"/><line x1="284.10" y1="474.62" x2="287.30" y2="474.62"/><line x1="282.30" y1="461.16" x2="287.30" y2="461.16"/><line x1="284.10" y1="447.70" x2="287.30" y2="447.70"/><line x1="284.10" y1="434.24" x2="287.30" y2="434.24"/><line x1="284.10" y1="420.78" x2="287.30" y2="420.78"/><line x1="282.30" y1="407.32" x2="287.30" y2="407.32"/><line x1="284.10" y1="393.86" x2="287.30" y2="393.86"/><line x1="284.10" y1="380.40" x2="287.30" y2="380.40"/><line x1="284.10" y1="366.94" x2="287.30" y2="366.94"/><line x1="282.30" y1="353.48" x2="287.30" y2="353.48"/><line x1="284.10" y1="340.02" x2="287.30" y2="340.02"/><line x1="47.60" y1="514.70" x2="47.60" y2="519.30"/><line x1="78.60" y1="514.70" x2="78.60" y2="519.30"/><line x1="110.40" y1="514.70" x2="110.40" y2="519.30"/><line x1="186.90" y1="514.70" x2="186.90" y2="519.30"/><line x1="259.30" y1="514.70" x2="259.30" y2="519.30"/><line x1="50.70" y1="514.70" x2="50.70" y2="517.50"/><line x1="81.78" y1="514.70" x2="81.78" y2="517.50"/><line x1="53.80" y1="514.70" x2="53.80" y2="517.50"/><line x1="84.96" y1="514.70" x2="84.96" y2="517.50"/><line x1="56.90" y1="514.70" x2="56.90" y2="517.50"/><line x1="88.14" y1="514.70" x2="88.14" y2="517.50"/><line x1="60.00" y1="514.70" x2="60.00" y2="517.50"/><line x1="91.32" y1="514.70" x2="91.32" y2="517.50"/><line x1="63.10" y1="514.70" x2="63.10" y2="517.50"/><line x1="94.50" y1="514.70" x2="94.50" y2="517.50"/><line x1="66.20" y1="514.70" x2="66.20" y2="517.50"/><line x1="97.68" y1="514.70" x2="97.68" y2="517.50"/><line x1="69.30" y1="514.70" x2="69.30" y2="517.50"/><line x1="100.86" y1="514.70" x2="100.86" y2="517.50"/><line x1="72.40" y1="514.70" x2="72.40" y2="517.50"/><line x1="104.04" y1="514.70" x2="104.04" y2="517.50"/><line x1="75.50" y1="514.70" x2="75.50" y2="517.50"/><line x1="107.22" y1="514.70" x2="107.22" y2="517.50"/><line x1="77.40" y1="514.70" x2="77.40" y2="518.70"/><line x1="78.00" y1="514.70" x2="78.00" y2="518.70"/><line x1="79.20" y1="514.70" x2="79.20" y2="518.70"/><line x1="79.80" y1="514.70" x2="79.80" y2="518.70"/><line x1="133.43" y1="514.70" x2="133.43" y2="517.50"/><line x1="208.69" y1="514.70" x2="208.69" y2="517.50"/><line x1="146.90" y1="514.70" x2="146.90" y2="517.50"/><line x1="221.44" y1="514.70" x2="221.44" y2="517.50"/><line x1="156.46" y1="514.70" x2="156.46" y2="517.50"/><line x1="230.49" y1="514.70" x2="230.49" y2="517.50"/><line x1="163.87" y1="514.70" x2="163.87" y2="517.50"/><line x1="237.51" y1="514.70" x2="237.51" y2="517.50"/><line x1="169.93" y1="514.70" x2="169.93" y2="517.50"/><line x1="243.24" y1="514.70" x2="243.24" y2="517.50"/><line x1="175.05" y1="514.70" x2="175.05" y2="517.50"/><line x1="248.09" y1="514.70" x2="248.09" y2="517.50"/><line x1="179.49" y1="514.70" x2="179.49" y2="517.50"/><line x1="252.28" y1="514.70" x2="252.28" y2="517.50"/><line x1="183.40" y1="514.70" x2="183.40" y2="517.50"/><line x1="255.99" y1="514.70" x2="255.99" y2="517.50"/><line x1="287.40" y1="515.00" x2="287.40" y2="519.60"/><line x1="318.50" y1="515.00" x2="318.50" y2="519.60"/><line x1="350.30" y1="515.00" x2="350.30" y2="519.60"/><line x1="427.00" y1="515.00" x2="427.00" y2="519.60"/><line x1="500.60" y1="515.00" x2="500.60" y2="519.60"/><line x1="290.51" y1="515.00" x2="290.51" y2="517.80"/><line x1="321.68" y1="515.00" x2="321.68" y2="517.80"/><line x1="293.62" y1="515.00" x2="293.62" y2="517.80"/><line x1="324.86" y1="515.00" x2="324.86" y2="517.80"/><line x1="296.73" y1="515.00" x2="296.73" y2="517.80"/><line x1="328.04" y1="515.00" x2="328.04" y2="517.80"/><line x1="299.84" y1="515.00" x2="299.84" y2="517.80"/><line x1="331.22" y1="515.00" x2="331.22" y2="517.80"/><line x1="302.95" y1="515.00" x2="302.95" y2="517.80"/><line x1="334.40" y1="515.00" x2="334.40" y2="517.80"/><line x1="306.06" y1="515.00" x2="306.06" y2="517.80"/><line x1="337.58" y1="515.00" x2="337.58" y2="517.80"/><line x1="309.17" y1="515.00" x2="309.17" y2="517.80"/><line x1="340.76" y1="515.00" x2="340.76" y2="517.80"/><line x1="312.28" y1="515.00" x2="312.28" y2="517.80"/><line x1="343.94" y1="515.00" x2="343.94" y2="517.80"/><line x1="315.39" y1="515.00" x2="315.39" y2="517.80"/><line x1="347.12" y1="515.00" x2="347.12" y2="517.80"/><line x1="317.30" y1="515.00" x2="317.30" y2="519.00"/><line x1="317.90" y1="515.00" x2="317.90" y2="519.00"/><line x1="319.10" y1="515.00" x2="319.10" y2="519.00"/><line x1="319.70" y1="515.00" x2="319.70" y2="519.00"/><line x1="373.39" y1="515.00" x2="373.39" y2="517.80"/><line x1="449.16" y1="515.00" x2="449.16" y2="517.80"/><line x1="386.90" y1="515.00" x2="386.90" y2="517.80"/><line x1="462.12" y1="515.00" x2="462.12" y2="517.80"/><line x1="396.48" y1="515.00" x2="396.48" y2="517.80"/><line x1="471.31" y1="515.00" x2="471.31" y2="517.80"/><line x1="403.91" y1="515.00" x2="403.91" y2="517.80"/><line x1="478.44" y1="515.00" x2="478.44" y2="517.80"/><line x1="409.98" y1="515.00" x2="409.98" y2="517.80"/><line x1="484.27" y1="515.00" x2="484.27" y2="517.80"/><line x1="415.12" y1="515.00" x2="415.12" y2="517.80"/><line x1="489.20" y1="515.00" x2="489.20" y2="517.80"/><line x1="419.57" y1="515.00" x2="419.57" y2="517.80"/><line x1="493.47" y1="515.00" x2="493.47" y2="517.80"/><line x1="423.49" y1="515.00" x2="423.49" y2="517.80"/><line x1="497.23" y1="515.00" x2="497.23" y2="517.80"/></g><!--end Cticks--></g>

<g font-size="11.3" text-anchor="middle"><text x="50.6" y="535.2">−10<tspan font-size="9" dy="-4.6">2</tspan></text><text x="78.6" y="535.2">0</text><text x="111" y="535.2">10<tspan font-size="9" dy="-4.6">2</tspan></text><text x="186.9" y="535.2">10<tspan font-size="9" dy="-4.6">3</tspan></text><text x="259.5" y="535.2">10<tspan font-size="9" dy="-4.6">4</tspan></text><text x="287" y="535.2">−10<tspan font-size="9" dy="-4.6">2</tspan></text><text x="318.5" y="535.2">0</text><text x="350.8" y="535.2">10<tspan font-size="9" dy="-4.6">2</tspan></text><text x="427.4" y="535.2">10<tspan font-size="9" dy="-4.6">3</tspan></text><text x="499.9" y="535.2">10<tspan font-size="9" dy="-4.6">4</tspan></text></g>
<text x="65" y="552.4" font-size="14.2" textLength="40.5" lengthAdjust="spacingAndGlyphs">Notch2</text>
<line x1="109.6" y1="547.7" x2="398" y2="547.7" stroke="#111" stroke-width="1.8"/>
<path d="M396.5 543 L409.5 547.7 L396.5 552.5 L399 547.7 Z" fill="#111"/>

<!-- C labels -->
<g font-size="10.5">
  <text x="74.6" y="365.8" textLength="35.4" lengthAdjust="spacingAndGlyphs">Isotype</text>
  <text x="203.8" y="379.2" textLength="6.2" lengthAdjust="spacingAndGlyphs">5</text>
  <text x="195.1" y="404.9" textLength="15.7" lengthAdjust="spacingAndGlyphs">2.5</text>
  <text x="196.2" y="430.6" textLength="20.8" lengthAdjust="spacingAndGlyphs">1.25</text>
  <text x="196.2" y="452.5" textLength="28.2" lengthAdjust="spacingAndGlyphs">0.625</text>
  <text x="198.8" y="472.8" textLength="27.7" lengthAdjust="spacingAndGlyphs">0.313</text>
</g>
<g stroke="#111" stroke-width="1.3">
  <line x1="107.7" y1="370.3" x2="133.1" y2="384.3"/>
  <line x1="200.8" y1="377.7" x2="176.9" y2="391.5"/>
  <line x1="192.3" y1="401.8" x2="167.7" y2="416.2"/>
  <line x1="191.9" y1="428.6" x2="168.5" y2="441.6"/>
  <line x1="192.8" y1="450.8" x2="165.1" y2="466.4"/>
  <line x1="196.2" y1="470.2" x2="165.6" y2="487.1"/>
</g>

</svg>
</body></html>
